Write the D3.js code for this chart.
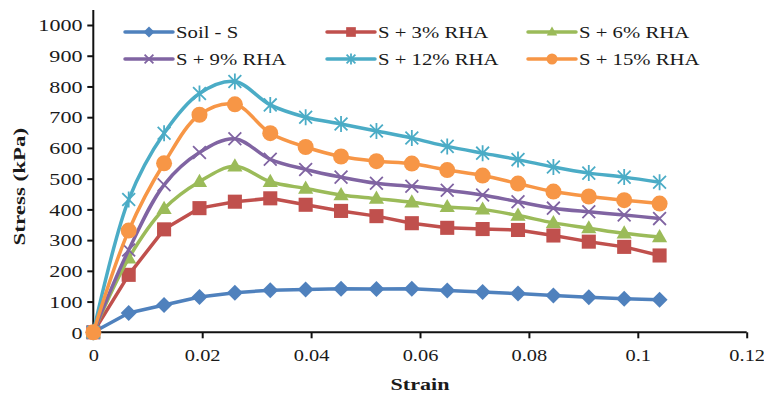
<!DOCTYPE html>
<html>
<head>
<meta charset="utf-8">
<script src="https://cdn.jsdelivr.net/npm/d3@7"></script>
<style>
  html, body { margin: 0; padding: 0; background: #fff; }
  svg { display: block; }
  text { font-family: "Liberation Serif", "Times New Roman", serif; fill: #1a1a1a; }
</style>
</head>
<body>
<svg id="chart" width="764" height="394"></svg>
<script>
// ---- data ----
const strain = [0, 0.0065, 0.013, 0.0195, 0.026, 0.0325, 0.039, 0.0455, 0.052, 0.0585, 0.065, 0.0715, 0.078, 0.0845, 0.091, 0.0975, 0.104];
const soilS  = [0, 63, 89, 115, 129, 137, 139, 142, 141, 142, 136, 131, 126, 120, 114, 109, 106];
const rha3   = [0, 187, 335, 404, 425, 436, 415, 395, 378, 355, 340, 336, 333, 315, 295, 278, 250];
const rha6   = [0, 241, 402, 490, 540, 490, 468, 447, 435, 423, 408, 400, 380, 356, 339, 322, 310];
const rha9   = [0, 268, 480, 585, 630, 563, 530, 505, 485, 475, 462, 447, 425, 404, 392, 382, 370];
const rha12  = [0, 432, 648, 777, 816, 740, 700, 678, 655, 632, 605, 583, 562, 538, 518, 505, 488];
const rha15  = [0, 331, 550, 708, 742, 648, 603, 572, 557, 549, 528, 510, 484, 458, 442, 430, 419];
const seriesNames = ["Soil - S", "S + 3% RHA", "S + 6% RHA", "S + 9% RHA", "S + 12% RHA", "S + 15% RHA"];
const xTickValues = [0, 0.02, 0.04, 0.06, 0.08, 0.1, 0.12];
const xTickLabels = ["0", "0.02", "0.04", "0.06", "0.08", "0.1", "0.12"];
const yTickValues = [0, 100, 200, 300, 400, 500, 600, 700, 800, 900, 1000];
const yTickLabels = ["0", "100", "200", "300", "400", "500", "600", "700", "800", "900", "1000"];
const xTitle = "Strain";
const yTitle = "Stress (kPa)";

// ---- styles ----
const colors = ["#4F81BD", "#C0504D", "#9BBB59", "#8064A2", "#4BACC6", "#F79646"];
const markers = ["diamond", "square", "triangle", "x", "star", "circle"];
const smooth = [false, false, true, true, true, true];
const allValues = [soilS, rha3, rha6, rha9, rha12, rha15];
const FONT = '"Liberation Serif", "Times New Roman", serif';

const svg = d3.select("#chart");
const x = d3.scaleLinear().domain([0, 0.12]).range([93.3, 746.7]);
const y = d3.scaleLinear().domain([0, 1000]).range([332.3, 25]);

// axes
const gx = svg.append("g").attr("transform", `translate(0,${y(0)})`)
  .call(d3.axisBottom(x).tickValues(xTickValues).tickSize(6)
    .tickFormat((d, i) => xTickLabels[i]));
const gy = svg.append("g").attr("transform", `translate(${x(0)},0)`)
  .call(d3.axisLeft(y).tickValues(yTickValues).tickSize(6)
    .tickFormat((d, i) => yTickLabels[i]));
[gx, gy].forEach(g => {
  g.attr("font-family", FONT);
  g.select(".domain").remove();
  g.selectAll(".tick line").attr("stroke", "#111").attr("stroke-width", 2);
  g.selectAll(".tick text").attr("font-size", 17).attr("fill", "#1a1a1a").attr("font-family", FONT);
});
gx.selectAll(".tick text").attr("transform", "scale(1.2,1)").attr("y", 17).attr("dy", "0.71em");
gy.selectAll(".tick text").attr("x", -10.8 / 1.3).attr("dy", "0.34em").attr("transform", "scale(1.3,1)");

// axis lines
svg.append("line").attr("x1", x(0)).attr("x2", x(0)).attr("y1", 10).attr("y2", y(0) + 1)
  .attr("stroke", "#111").attr("stroke-width", 2);
svg.append("line").attr("x1", x(0) - 1).attr("x2", x(0.12)).attr("y1", y(0)).attr("y2", y(0))
  .attr("stroke", "#111").attr("stroke-width", 2);

// axis titles
svg.append("text").attr("transform", `translate(${(x(0) + x(0.12)) / 2},390) scale(1.3,1)`)
  .attr("font-family", FONT)
  .attr("text-anchor", "middle").attr("font-size", 17).attr("font-weight", "bold").text(xTitle);
svg.append("text").attr("transform", `translate(25,${(y(0) + y(1000)) / 2 + 8}) rotate(-90) scale(1.35,1)`)
  .attr("font-family", FONT)
  .attr("text-anchor", "middle").attr("font-size", 17).attr("font-weight", "bold").text(yTitle);

// marker drawing
function drawMarker(g, type, color, s) {
  if (type === "diamond") {
    g.append("path").attr("d", `M0,${-s}L${s},0L0,${s}L${-s},0Z`).attr("fill", color);
  } else if (type === "square") {
    const h = s * 0.88;
    g.append("rect").attr("x", -h).attr("y", -h).attr("width", 2 * h).attr("height", 2 * h).attr("fill", color);
  } else if (type === "triangle") {
    g.append("path").attr("d", `M0,${-s}L${s * 0.95},${s * 0.65}L${-s * 0.95},${s * 0.65}Z`).attr("fill", color);
  } else if (type === "circle") {
    g.append("circle").attr("r", s).attr("fill", color);
  } else if (type === "x" || type === "star") {
    const h = s * 0.8;
    g.append("path").attr("d", `M${-h},${-h}L${h},${h}M${-h},${h}L${h},${-h}` + (type === "star" ? `M0,${-s}L0,${s}` : ""))
      .attr("stroke", color).attr("stroke-width", 1.8).attr("fill", "none");
  }
}

// series
allValues.forEach((vals, si) => {
  const pts = strain.map((s, i) => [s, vals[i]]);
  const line = d3.line().x(d => x(d[0])).y(d => y(d[1]))
    .curve(smooth[si] ? d3.curveCatmullRom.alpha(0.5) : d3.curveLinear);
  const g = svg.append("g");
  g.append("path").datum(pts).attr("d", line).attr("fill", "none")
    .attr("stroke", colors[si]).attr("stroke-width", 3.5).attr("stroke-linejoin", "round");
  pts.forEach(p => {
    const m = g.append("g").attr("transform", `translate(${x(p[0])},${y(p[1])})`);
    drawMarker(m, markers[si], colors[si], 8);
  });
});

// legend
const legendPos = [[125, 32], [327, 32], [528, 32], [125, 59], [327, 59], [528, 59]];
seriesNames.forEach((name, si) => {
  const [lx, ly] = legendPos[si];
  const g = svg.append("g").attr("transform", `translate(${lx},${ly})`);
  g.append("line").attr("x1", 0).attr("x2", 48).attr("y1", 0).attr("y2", 0)
    .attr("stroke", colors[si]).attr("stroke-width", 3.5).attr("stroke-linecap", "round");
  const m = g.append("g").attr("transform", "translate(24,0)");
  drawMarker(m, markers[si], colors[si], 5.5);
  g.append("text").attr("transform", "translate(51,6) scale(1.22,1)")
    .attr("font-family", FONT).attr("font-size", 17).text(name);
});
</script>
</body>
</html>
